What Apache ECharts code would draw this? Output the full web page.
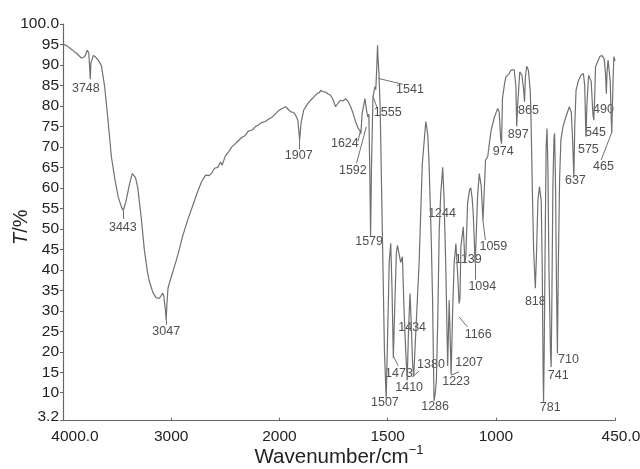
<!DOCTYPE html>
<html lang="en">
<head>
    <meta charset="UTF-8">
    <title>IR spectrum</title>
    <script src="https://cdn.jsdelivr.net/npm/echarts@6/dist/echarts.min.js"></script>
    <style>
        html, body { margin: 0; padding: 0; background: #fff; }
    </style>
</head>
<body>
<div id="main" style="width: 640px;height:469px;"></div>
<script>
// spectrum: [wavenumber (cm-1), transmittance (%)]
var spectrum = [
    [4000,95.1],[3960,94.6],[3920,93.8],[3874,92.8],[3830,91.7],[3800,92.0],[3775,93.6],[3762,93.0],
    [3752,88.5],[3748,86.5],[3742,90.5],[3720,92.3],[3700,92.0],[3670,91.0],[3645,89.8],[3615,84.7],
    [3584,76.5],[3553,67.6],[3520,62.0],[3490,57.8],[3460,55.3],[3443,54.5],[3420,56.5],[3385,61.0],
    [3360,63.5],[3349,63.8],[3330,62.5],[3309,60.0],[3278,52.9],[3248,44.8],[3220,39.5],[3202,37.2],
    [3170,34.5],[3140,33.2],[3110,33.0],[3095,33.3],[3078,34.3],[3068,33.5],[3058,31.0],[3052,29.8],
    [3047,27.7],[3040,31.5],[3030,35.5],[3003,38.0],[2980,40.0],[2957,42.0],[2930,44.5],[2896,48.1],
    [2850,52.0],[2805,55.4],[2760,58.8],[2720,61.5],[2682,63.1],[2650,63.0],[2621,63.8],[2600,64.8],
    [2570,65.0],[2544,66.3],[2530,65.5],[2500,67.8],[2470,68.8],[2440,70.0],[2407,70.8],[2380,71.5],
    [2350,72.3],[2315,72.8],[2290,73.8],[2250,74.2],[2220,75.0],[2193,75.4],[2160,76.0],[2130,76.2],
    [2100,76.8],[2071,77.2],[2040,78.0],[2010,78.8],[1990,79.3],[1972,79.8],[1960,79.2],[1949,78.6],
    [1935,78.4],[1926,77.8],[1915,76.5],[1907,71.7],[1900,76.0],[1888,79.0],[1870,80.5],[1856,81.4],
    [1841,82.2],[1826,83.0],[1815,83.3],[1810,83.8],[1800,83.5],[1787,83.4],[1775,82.9],[1764,82.6],
    [1752,81.5],[1741,79.8],[1730,80.6],[1718,81.4],[1706,81.2],[1694,81.8],[1682,81.0],[1671,79.8],
    [1660,78.2],[1648,76.1],[1636,74.5],[1628,74.0],[1624,73.2],[1618,78.2],[1605,81.8],[1598,79.0],
    [1592,77.3],[1587,78.0],[1583,65.0],[1579,48.1],[1575,65.0],[1568,82.2],[1559,84.7],[1555,84.0],
    [1550,90.0],[1547,94.8],[1544,91.0],[1541,88.5],[1535,80.0],[1525,50.0],[1515,20.0],[1507,8.5],
    [1500,25.0],[1493,42.0],[1486,46.5],[1480,35.0],[1474,18.5],[1468,30.0],[1460,44.0],[1455,46.0],
    [1448,44.0],[1440,41.8],[1432,43.2],[1425,31.0],[1417,20.4],[1410,13.0],[1404,25.0],[1397,34.2],
    [1392,28.0],[1385,17.0],[1380,14.0],[1370,25.0],[1355,41.6],[1340,66.0],[1324,76.2],[1315,73.0],
    [1309,66.0],[1300,50.0],[1293,33.4],[1286,8.0],[1280,10.0],[1275,13.1],[1268,30.0],[1262,49.7],
    [1255,58.6],[1250,62.0],[1246,65.0],[1240,57.8],[1232,41.6],[1223,16.5],[1216,32.6],[1207,14.5],
    [1200,30.0],[1193,41.6],[1185,46.4],[1178,40.0],[1170,31.8],[1166,33.0],[1162,45.6],[1151,50.5],
    [1143,41.6],[1139,43.5],[1131,56.2],[1122,59.5],[1116,60.0],[1110,57.5],[1105,53.8],[1096,41.6],
    [1090,50.0],[1085,57.8],[1077,63.5],[1068,60.5],[1060,52.0],[1055,58.0],[1048,66.8],[1038,67.6],
    [1030,71.0],[1022,74.1],[1007,77.3],[992,79.4],[985,78.5],[978,72.0],[974,70.8],[970,81.8],
    [960,85.5],[954,87.1],[939,87.9],[931,88.7],[916,88.9],[908,85.0],[904,75.0],[900,80.0],
    [890,88.3],[880,87.5],[872,84.0],[868,81.0],[864,87.0],[858,89.7],[850,88.7],[842,84.0],
    [839,79.8],[832,60.0],[826,45.0],[818,35.5],[812,45.0],[806,57.0],[799,60.3],[791,57.0],
    [786,40.0],[782,15.0],[780,7.8],[777,20.0],[772,50.0],[768,70.0],[764,74.5],[760,65.0],
    [755,40.0],[748,20.0],[745,16.3],[742,30.0],[737,60.0],[732,72.0],[729,73.3],[725,62.0],
    [720,35.0],[716,19.6],[712,40.0],[706,62.0],[700,71.7],[690,75.0],[677,77.3],[661,79.8],
    [652,78.5],[646,72.0],[640,62.5],[636,75.0],[630,83.8],[620,86.0],[607,87.5],[596,87.9],
    [590,85.0],[586,76.0],[584,72.5],[580,80.0],[572,87.5],[568,87.9],[560,86.0],[552,78.0],
    [548,76.5],[544,82.0],[540,89.5],[530,90.8],[520,92.1],[510,92.3],[500,91.5],[494,88.0],
    [490,83.0],[487,88.0],[482,91.2],[478,91.0],[472,86.0],[468,78.0],[465,73.4],[462,80.0],
    [458,88.0],[455,92.0],[450,91.0]
];

// peak annotations
var peakNames = ['3748','3443','3047','1907','1624','1592','1579','1555','1541','1507','1473','1434',
    '1410','1380','1286','1244','1223','1207','1166','1139','1094','1059','974','897','865','818',
    '781','741','710','637','575','545','490','465'];

// axis ticks
var xTickWn = [4000, 3000, 2000, 1500, 1000, 450];
var xTickText = ['4000.0', '3000', '2000', '1500', '1000', '450.0'];
var yTickVal = [3.2, 10, 15, 20, 25, 30, 35, 40, 45, 50, 55, 60, 65, 70, 75, 80, 85, 90, 95, 100];
var yTickText = ['3.2', '10', '15', '20', '25', '30', '35', '40', '45', '50', '55', '60', '65', '70',
    '75', '80', '85', '90', '95', '100.0'];

// where each peak label sits, [wavenumber, T]
var labelSpots = [
    [3789,84.3],[3447,50.2],[3046,24.9],[1911,67.8],[1698,70.7],[1661,64.2],[1586,46.8],[1500,78.3],
    [1397,83.9],[1513,7.7],[1448,14.8],[1387,26.0],[1401,11.2],[1300,16.8],[1281,6.6],[1249,53.8],
    [1184,12.7],[1124,17.3],[1082,24.1],[1128,42.4],[1063,35.9],[1012,45.6],[966,68.8],[897,72.9],
    [850,78.8],[818,32.2],[749,6.4],[712,14.3],[665,18.0],[633,61.9],[573,69.4],[540,73.4],
    [503,79.2],[503,65.1]
];
// leader lines, [wn1, T1, wn2, T2]
var leaders = [
    [3443,54.5,3443,52.4],[3047,27.7,3047,26.6],[1907,71.7,1907,69.4],[1625,74.1,1637,71.4],
    [1599,74.9,1644,66.0],[1567,82.2,1548,79.4],[1543,86.7,1430,85.3],[1474,19.0,1452,16.6],
    [1387,13.8,1355,15.3],[1208,14.3,1170,15.1],[1170,28.5,1133,26.1],[1096,41.6,1096,37.6],
    [1060,52.0,1049,47.3],[514,66.8,466,73.4]
];

// above 2000 cm-1 the axis is compressed by half
function toX(w) {
    return w <= 2000 ? w : 2000 + (w - 2000) / 2;
}

var FONT = 'Liberation Sans, Arial, sans-serif';

var myChart = echarts.init(document.getElementById('main'));
var option = {
    animation: false,
    backgroundColor: '#fff',
    grid: { left: 63, right: 25, top: 24, bottom: 48.4, containLabel: false, outerBoundsMode: 'none' },
    xAxis: {
        type: 'value',
        inverse: true,
        min: toX(450),
        max: toX(4000),
        name: '{a|Wavenumber/cm}{s|\u22121}',
        nameLocation: 'middle',
        nameGap: 23,
        nameMoveOverlap: false,
        nameTextStyle: {
            rich: {
                a: { fontSize: 20.5, fontFamily: FONT, color: '#222', lineHeight: 24, verticalAlign: 'bottom' },
                s: { fontSize: 13, fontFamily: FONT, color: '#222', lineHeight: 24, verticalAlign: 'top' }
            }
        },
        axisLine: { lineStyle: { color: '#666', width: 1.2 } },
        axisTick: { inside: true, length: 3, lineStyle: { color: '#666' }, customValues: xTickWn.map(toX) },
        splitLine: { show: false },
        axisLabel: {
            customValues: xTickWn.map(toX),
            margin: 8,
            formatter: function (v) {
                var i = xTickWn.map(toX).indexOf(v);
                if (i === 0) return '{e|' + xTickText[i] + '}';
                if (i === xTickWn.length - 1) return '{f|' + xTickText[i] + '}';
                return xTickText[i];
            },
            fontSize: 15.5,
            fontFamily: FONT,
            color: '#222',
            rich: {
                e: { fontSize: 15.5, fontFamily: FONT, color: '#222', padding: [0, 0, 0, 24] },
                f: { fontSize: 15.5, fontFamily: FONT, color: '#222', padding: [0, 0, 0, 12] }
            }
        }
    },
    yAxis: {
        type: 'value',
        min: 3.2,
        max: 100,
        name: '{i|T}{n|/%}',
        nameLocation: 'middle',
        nameGap: 32,
        nameRotate: 90,
        nameMoveOverlap: false,
        nameTextStyle: {
            padding: [0, 10, 0, 0],
            rich: {
                i: { fontSize: 20, fontFamily: FONT, fontStyle: 'italic', color: '#222' },
                n: { fontSize: 20, fontFamily: FONT, color: '#222' }
            }
        },
        axisLine: { show: true, lineStyle: { color: '#666', width: 1.2 } },
        axisTick: { show: true, length: 3, lineStyle: { color: '#666' }, customValues: yTickVal },
        splitLine: { show: false },
        axisLabel: {
            customValues: yTickVal,
            margin: 4,
            fontSize: 15.5,
            fontFamily: FONT,
            color: '#222',
            formatter: function (v) {
                var i = yTickVal.indexOf(v);
                if (i === 0) return '{b|' + yTickText[i] + '}';
                return i >= 0 ? yTickText[i] : '';
            },
            rich: {
                b: { fontSize: 15.5, fontFamily: FONT, color: '#222', padding: [0, 0, 8, 0] }
            }
        }
    },
    series: [
        {
            name: 'spectrum',
            type: 'line',
            showSymbol: false,
            silent: true,
            lineStyle: { color: '#707070', width: 1.2 },
            data: spectrum.map(function (p) { return [toX(p[0]), p[1]]; })
        },
        {
            name: 'leaders',
            type: 'lines',
            coordinateSystem: 'cartesian2d',
            silent: true,
            lineStyle: { color: '#707070', width: 1, opacity: 1 },
            data: leaders.map(function (l) {
                return { coords: [[toX(l[0]), l[1]], [toX(l[2]), l[3]]] };
            })
        },
        {
            name: 'peaks',
            type: 'scatter',
            symbolSize: 0,
            silent: true,
            label: {
                show: true,
                position: 'inside',
                formatter: '{b}',
                fontSize: 12.5,
                fontFamily: FONT,
                color: '#222'
            },
            data: peakNames.map(function (n, i) {
                return { name: n, value: [toX(labelSpots[i][0]), labelSpots[i][1]] };
            })
        }
    ]
};
myChart.setOption(option);
</script>
</body>
</html>
